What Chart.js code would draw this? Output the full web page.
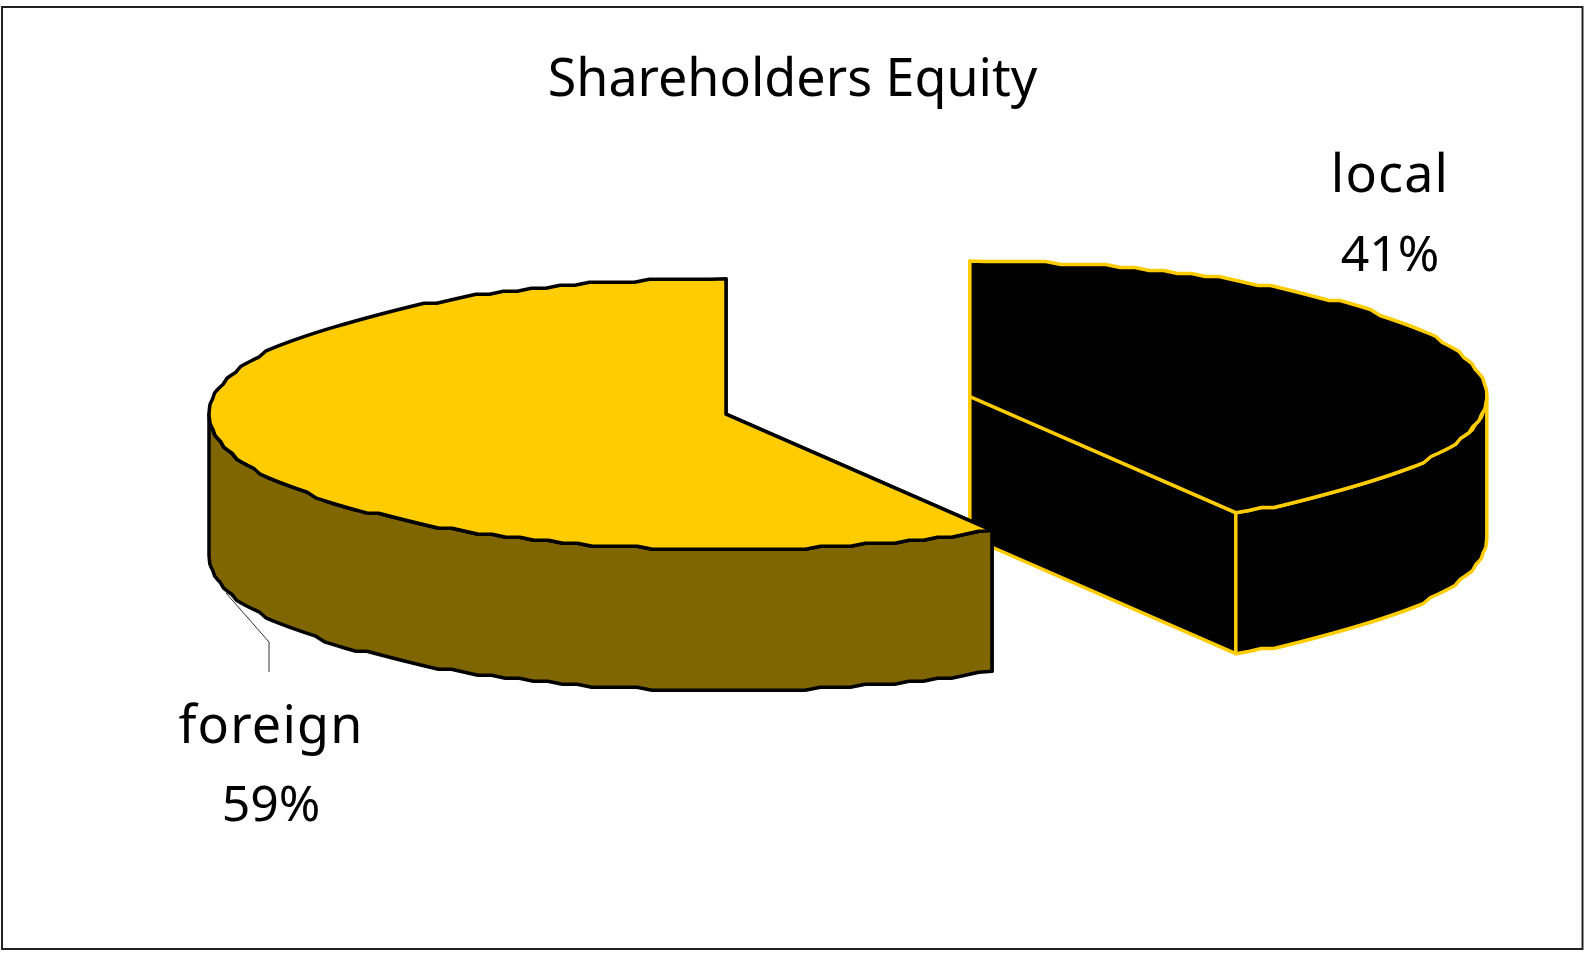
<!DOCTYPE html>
<html>
<head>
<meta charset="utf-8">
<style>html,body{margin:0;padding:0;background:#fff}canvas{display:block}</style>
<script src="https://cdn.jsdelivr.net/npm/chart.js@4/dist/chart.umd.min.js"></script>
</head>
<body>
<canvas id="c" width="1585" height="956"></canvas>
<script>
const categories = ['local', 'foreign'];
const shares = [41.4, 58.6];
const topColors = ['#000000', '#FFCC00'];
const sideColors = ['#000000', '#806600'];
const outlineColors = ['#FFCC00', '#000000'];
const chartTitle = 'Shareholders Equity';

const FONT = '"Noto Sans", Arial, sans-serif';
const FONT_SIZE = 52, PCT_SIZE = 50;
const LABEL_SPACING = '1.2px';
const RADIUS = 517, SQUASH = 0.262, DEPTH = 141, EXPLODE = 253, SHIFT_X = -66.5;
const GRID_Y = 3, STEP = 1.7 * Math.PI / 180;
const labelPos = [{x: 1390, y1: 192, y2: 271}, {x: 271, y1: 743, y2: 821}];
const leader = [[226, 593], [269, 642], [269, 672]];

function rim(cx, cy, a, b) {
  const pts = [];
  const n = Math.max(1, Math.round((b - a) / STEP));
  for (let i = 0; i <= n; i++) {
    const t = a + (b - a) * i / n;
    const x = cx + RADIUS * Math.cos(t);
    let y = RADIUS * SQUASH * Math.sin(t);
    if (i > 0 && i < n) y = Math.round(y / GRID_Y) * GRID_Y;
    pts.push([x, cy + y]);
  }
  return pts;
}
function trace(ctx, pts, move) {
  pts.forEach((p, i) => (i === 0 && move) ? ctx.moveTo(p[0], p[1]) : ctx.lineTo(p[0], p[1]));
}

const pie3d = {
  id: 'pie3d',
  beforeDraw(chart) {
    const {ctx, width, height} = chart;
    ctx.save();
    ctx.fillStyle = '#fff';
    ctx.fillRect(0, 0, width, height);
    ctx.strokeStyle = '#222';
    ctx.lineWidth = 2;
    ctx.strokeRect(2, 7, 1580.5, 942);
    ctx.restore();
  },
  beforeDatasetsDraw(chart) {
    const {ctx} = chart;
    const arcs = chart.getDatasetMeta(0).data;
    [0, 1].forEach(i => {
      const arc = arcs[i];
      const a = arc.startAngle, b = arc.endAngle, mid = (a + b) / 2;
      const explode = i === 0 ? EXPLODE : 0;
      const cx = arc.x + SHIFT_X + Math.cos(mid) * explode;
      const cy = arc.y + Math.sin(mid) * explode * SQUASH;
      const top = rim(cx, cy, a, b);
      const topPath = () => {
        ctx.beginPath();
        ctx.moveTo(cx, cy);
        trace(ctx, top, false);
        ctx.closePath();
      };
      ctx.save();
      ctx.lineWidth = 3.5;
      ctx.lineJoin = 'round';
      ctx.strokeStyle = outlineColors[i];
      ctx.fillStyle = sideColors[i];
      // radial walls
      [a, b].forEach(t => {
        const ex = cx + RADIUS * Math.cos(t), ey = cy + RADIUS * SQUASH * Math.sin(t);
        ctx.beginPath();
        ctx.moveTo(cx, cy); ctx.lineTo(ex, ey);
        ctx.lineTo(ex, ey + DEPTH); ctx.lineTo(cx, cy + DEPTH);
        ctx.closePath(); ctx.fill(); ctx.stroke();
      });
      // outer wall: the part of the rim on the front half
      const s = Math.max(a, 0), e = Math.min(b, Math.PI);
      if (e > s) {
        const front = rim(cx, cy, s, e);
        ctx.beginPath();
        trace(ctx, front, true);
        trace(ctx, front.map(p => [p[0], p[1] + DEPTH]).reverse(), false);
        ctx.closePath(); ctx.fill(); ctx.stroke();
      }
      // top face
      topPath();
      ctx.fillStyle = topColors[i];
      ctx.fill();
      ctx.save();
      ctx.clip();
      ctx.translate(cx, cy);
      ctx.scale(1, SQUASH);
      ctx.translate(-arc.x, -arc.y);
      arc.draw(ctx);
      ctx.restore();
      topPath();
      ctx.stroke();
      ctx.restore();
    });
    return false;
  },
  afterDraw(chart) {
    const {ctx} = chart;
    ctx.save();
    ctx.strokeStyle = '#333';
    ctx.lineWidth = 1;
    ctx.beginPath();
    trace(ctx, leader, true);
    ctx.stroke();
    ctx.fillStyle = '#000';
    ctx.textAlign = 'center';
    ctx.textBaseline = 'alphabetic';
    categories.forEach((c, i) => {
      ctx.font = FONT_SIZE + 'px ' + FONT;
      ctx.letterSpacing = LABEL_SPACING;
      ctx.fillText(c, labelPos[i].x, labelPos[i].y1);
      ctx.font = PCT_SIZE + 'px ' + FONT;
      ctx.letterSpacing = '0px';
      ctx.fillText(Math.round(shares[i]) + '%', labelPos[i].x, labelPos[i].y2);
    });
    ctx.restore();
  }
};

new Chart(document.getElementById('c'), {
  type: 'pie',
  data: {
    labels: categories,
    datasets: [{
      data: shares,
      backgroundColor: topColors,
      borderWidth: 0,
      radius: RADIUS
    }]
  },
  options: {
    responsive: false,
    animation: false,
    layout: {padding: {bottom: 240}},
    plugins: {
      legend: {display: false},
      tooltip: {enabled: false},
      title: {
        display: true,
        text: chartTitle,
        color: '#000',
        font: {family: FONT, size: FONT_SIZE, weight: 'normal'},
        padding: {top: 50, bottom: 0}
      }
    }
  },
  plugins: [pie3d]
});
</script>
</body>
</html>
